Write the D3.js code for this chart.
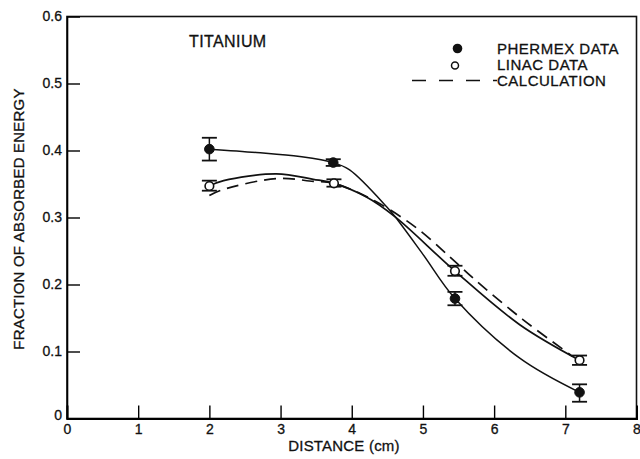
<!DOCTYPE html>
<html>
<head>
<meta charset="utf-8">
<script src="https://cdn.jsdelivr.net/npm/d3@7"></script>
<style>
  body { margin: 0; background: #fff; }
  svg { display: block; font-family: "Liberation Sans", Arial, Helvetica, sans-serif; }
  svg text { stroke: #111; stroke-width: 0.3px; }
</style>
</head>
<body>
<div id="chart"></div>
<script>
// Titanium: fraction of absorbed energy vs distance

// measured points [distance, value, errLow, errHigh]
const phermexData = [
  [2.0, 0.402, 0.385, 0.419],
  [3.74, 0.382, 0.377, 0.387],
  [5.45, 0.179, 0.169, 0.189],
  [7.2, 0.039, 0.025, 0.051]
];
const linacData = [
  [2.0, 0.347, 0.340, 0.355],
  [3.75, 0.351, 0.346, 0.357],
  [5.45, 0.220, 0.213, 0.228],
  [7.2, 0.087, 0.080, 0.094]
];

// fitted curves
const phermexCurve = [
  [2.0, 0.402], [2.66, 0.397], [3.27, 0.391], [3.74, 0.382], [3.97, 0.371],
  [4.49, 0.316], [4.61, 0.301], [5.0, 0.245], [5.45, 0.179], [6.36, 0.090], [7.2, 0.039]
];
const linacCurve = [
  [2.0, 0.347], [2.2, 0.355], [2.94, 0.365], [3.46, 0.357], [3.75, 0.351],
  [4.2, 0.331], [4.61, 0.301], [5.45, 0.220], [6.36, 0.140], [7.2, 0.087]
];
const calcCurve = [
  [2.0, 0.333], [2.17, 0.341], [2.94, 0.358], [3.46, 0.354], [3.75, 0.351],
  [4.3, 0.326], [4.89, 0.286], [5.38, 0.241], [5.71, 0.209], [6.4, 0.148], [7.1, 0.093]
];

const xTicks = [0, 1, 2, 3, 4, 5, 6, 7, 8];
const yTicks = [0, 0.1, 0.2, 0.3, 0.4, 0.5, 0.6];
const yTickLabels = ['0', '0.1', '0.2', '0.3', '0.4', '0.5', '0.6'];

const legendItems = ['PHERMEX DATA', 'LINAC DATA', 'CALCULATION'];

const W = 640, H = 459;
const m = { left: 67, right: 3.5, top: 16.5, bottom: 40.5 };

const svg = d3.select('#chart').append('svg')
  .attr('width', W).attr('height', H);

const x = d3.scaleLinear().domain([0, 8]).range([m.left, W - m.right]);
const y = d3.scaleLinear().domain([0, 0.6]).range([H - m.bottom, m.top]);

// frame
svg.append('rect')
  .attr('x', x(0)).attr('y', y(0.6))
  .attr('width', x(8) - x(0)).attr('height', y(0) - y(0.6))
  .attr('fill', 'none').attr('stroke', '#111').attr('stroke-width', 1.6);

// axes, ticks pointing inward
const xAxis = d3.axisBottom(x).tickValues(xTicks).tickSize(-13).tickPadding(6)
  .tickFormat(d3.format('d'));
const gx = svg.append('g').attr('transform', `translate(0,${y(0)})`).call(xAxis);
gx.select('.domain').attr('stroke-width', 2);
gx.selectAll('.tick line').attr('stroke-width', 1.4);
gx.selectAll('.tick line').filter(d => d === 0 || d === 8).remove();
gx.selectAll('text').attr('font-size', 14).attr('fill', '#111')
  .attr('font-family', '"Liberation Sans", Arial, sans-serif');

const yAxis = d3.axisLeft(y).tickValues(yTicks).tickSize(-13).tickPadding(5)
  .tickFormat((d, i) => yTickLabels[i]);
const gy = svg.append('g').attr('transform', `translate(${x(0)},0)`).call(yAxis);
gy.select('.domain').attr('stroke-width', 1.6);
gy.selectAll('.tick line').attr('stroke-width', 1.4);
gy.selectAll('.tick line').filter(d => d === 0 || d === 0.6).remove();
gy.selectAll('text').attr('font-size', 14).attr('fill', '#111')
  .attr('font-family', '"Liberation Sans", Arial, sans-serif');
gy.selectAll('.tick').filter(d => d === 0).select('text').attr('dy', '0.1em');

// axis titles
svg.append('text')
  .attr('x', 344).attr('y', 451)
  .attr('text-anchor', 'middle').attr('font-size', 15).attr('fill', '#111')
  .attr('letter-spacing', 0.2)
  .text('DISTANCE (cm)');
svg.append('text')
  .attr('transform', 'translate(24,219) rotate(-90)')
  .attr('text-anchor', 'middle').attr('font-size', 15).attr('fill', '#111')
  .attr('letter-spacing', 0.2)
  .text('FRACTION OF ABSORBED ENERGY');

svg.append('text')
  .attr('x', 189).attr('y', 47)
  .attr('font-size', 16).attr('fill', '#111').attr('letter-spacing', 0.4)
  .text('TITANIUM');

// curves
const line = d3.line()
  .x(d => x(d[0])).y(d => y(d[1]))
  .curve(d3.curveCatmullRom.alpha(0.5));

svg.append('path').datum(phermexCurve).attr('d', line)
  .attr('fill', 'none').attr('stroke', '#111').attr('stroke-width', 1.5);
svg.append('path').datum(linacCurve).attr('d', line)
  .attr('fill', 'none').attr('stroke', '#111').attr('stroke-width', 1.7);
svg.append('path').datum(calcCurve).attr('d', line)
  .attr('fill', 'none').attr('stroke', '#111').attr('stroke-width', 1.7)
  .attr('stroke-dasharray', '12,7');

// error bars + markers
function drawPoints(data, filled) {
  const g = svg.append('g');
  const capW = 7.5;
  data.forEach(d => {
    const cx = x(d[0]);
    g.append('line').attr('x1', cx).attr('x2', cx)
      .attr('y1', y(d[2])).attr('y2', y(d[3]))
      .attr('stroke', '#111').attr('stroke-width', 1.5);
    [d[2], d[3]].forEach(v => {
      g.append('line').attr('x1', cx - capW).attr('x2', cx + capW)
        .attr('y1', y(v)).attr('y2', y(v))
        .attr('stroke', '#111').attr('stroke-width', 1.8);
    });
    g.append('circle').attr('cx', cx).attr('cy', y(d[1])).attr('r', filled ? 4.8 : 4.3)
      .attr('fill', filled ? '#111' : '#fff')
      .attr('stroke', '#111').attr('stroke-width', filled ? 1 : 1.6);
  });
}
drawPoints(phermexData, true);
drawPoints(linacData, false);

// legend
const lg = svg.append('g');
const legTextX = 497;
const legBase = [53.5, 69.5, 86];
lg.append('circle').attr('cx', 457.5).attr('cy', 48.5).attr('r', 4.8).attr('fill', '#111');
lg.append('circle').attr('cx', 455).attr('cy', 65.5).attr('r', 3.5)
  .attr('fill', '#fff').attr('stroke', '#111').attr('stroke-width', 1.5);
lg.append('line').attr('x1', 412).attr('x2', 497).attr('y1', 80.5).attr('y2', 80.5)
  .attr('stroke', '#111').attr('stroke-width', 1.6).attr('stroke-dasharray', '14,13');
legendItems.forEach((t, i) => {
  lg.append('text').attr('x', legTextX).attr('y', legBase[i])
    .attr('font-size', 15).attr('letter-spacing', 0.5).attr('fill', '#111')
    .text(t);
});
</script>
</body>
</html>
